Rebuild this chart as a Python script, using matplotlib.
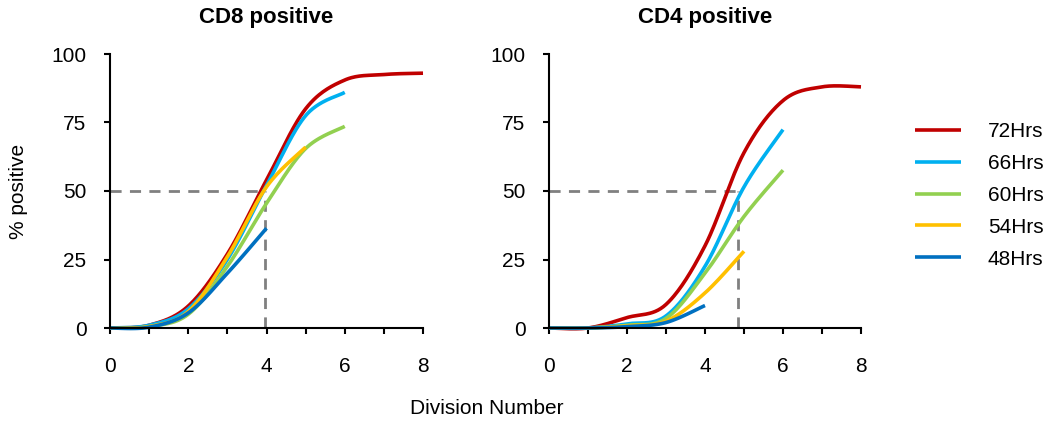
import numpy as np
from matplotlib import pyplot as plt

plt.rcParams['font.family'] = ['Liberation Sans', 'DejaVu Sans']

divisions = [0, 1, 2, 3, 4, 5, 6, 7, 8]
series_names = ["72Hrs", "66Hrs", "60Hrs", "54Hrs", "48Hrs"]
series_colors = ["#C00000", "#00B0F0", "#92D050", "#FFC000", "#0070C0"]

# CD8 positive (% positive per division)
cd8_72 = [0, 1.0, 8, 27, 54, 80, 90.5, 92.5, 93]
cd8_66 = [0, 1.0, 7, 25, 52, 77.5, 86]
cd8_60 = [0, 0.5, 5, 22.5, 45.5, 65.5, 73.6]
cd8_54 = [0, 0.5, 6, 26, 51.5, 66]
cd8_48 = [0, 0.3, 5.5, 20, 36.4]

# CD4 positive
cd4_72 = [0, 0, 3.8, 8.6, 30, 64, 83, 88, 88]
cd4_66 = [0, 0, 1.5, 4.4, 22.5, 51.5, 72.4]
cd4_60 = [0, 0, 1.0, 3.5, 20, 40.7, 57.6]
cd4_54 = [0, 0, 0.8, 2.5, 12.8, 28]
cd4_48 = [0, 0, 0.5, 2.0, 8.2]

cd8_cut = 3.95
cd4_cut = 4.85


def smooth(xs, ys, n=30):
    # Excel-like smoothed line (Catmull-Rom through the points)
    p = np.column_stack([xs, ys]).astype(float)
    p = np.vstack([p[0], p, p[-1]])
    t = np.linspace(0, 1, n)[:, None]
    out = []
    for i in range(1, len(p) - 2):
        p0, p1, p2, p3 = p[i - 1], p[i], p[i + 1], p[i + 2]
        b1 = p1 + (p2 - p0) / 6
        b2 = p2 - (p3 - p1) / 6
        seg = ((1 - t) ** 3) * p1 + 3 * ((1 - t) ** 2) * t * b1 + 3 * (1 - t) * t ** 2 * b2 + t ** 3 * p2
        out.append(seg)
    seg = np.vstack(out)
    return seg[:, 0], seg[:, 1]


def panel(ax, data, title, cut):
    ax.plot([0, cut], [50, 50], color="#808080", lw=2, ls=(0, (4, 3)), clip_on=False)
    ax.plot([cut, cut], [0, 50], color="#808080", lw=2, ls=(0, (4, 3)), clip_on=False)
    for name, col, ys in zip(series_names, series_colors, data):
        sx, sy = smooth(divisions[:len(ys)], ys)
        ax.plot(sx, sy, color=col, lw=2.6, label=name, clip_on=False, solid_capstyle='butt')
    ax.set_xlim(0, 8)
    ax.set_ylim(0, 100)
    ax.set_xticks([0, 2, 4, 6, 8])
    ax.set_xticks([1, 3, 5, 7], minor=True)
    ax.set_yticks([0, 25, 50, 75, 100])
    ax.spines['top'].set_visible(False)
    ax.spines['right'].set_visible(False)
    for s in ['left', 'bottom']:
        ax.spines[s].set_linewidth(1.5)
    ax.tick_params(axis='x', which='both', length=4, width=1.5, pad=17, labelsize=15)
    ax.tick_params(axis='y', length=4, width=1.5, pad=13, labelsize=15)
    ax.set_title(title, fontsize=16, fontweight='bold', pad=22)


fig = plt.figure(figsize=(10.62, 4.23), dpi=100)
ax1 = fig.add_axes([110 / 1062, 95 / 423, 313 / 1062, 274 / 423])
ax2 = fig.add_axes([549 / 1062, 95 / 423, 312 / 1062, 274 / 423])

panel(ax1, [cd8_72, cd8_66, cd8_60, cd8_54, cd8_48], "CD8 positive", cd8_cut)
panel(ax2, [cd4_72, cd4_66, cd4_60, cd4_54, cd4_48], "CD4 positive", cd4_cut)

fig.text(19 / 1062, 1 - 191 / 423, "% positive", rotation=90, ha='center', va='center', fontsize=15)
fig.text(487 / 1062, 1 - 408 / 423, "Division Number", ha='center', va='center', fontsize=15)

handles, labels = ax2.get_legend_handles_labels()
fig.legend(handles, labels, loc='upper left', bbox_to_anchor=(915 / 1062, 1 - 122 / 423),
           frameon=False, fontsize=15, handlelength=2.2, handletextpad=1.3, labelspacing=0.62,
           borderpad=0, borderaxespad=0)

fig.savefig("out.png", dpi=100)
